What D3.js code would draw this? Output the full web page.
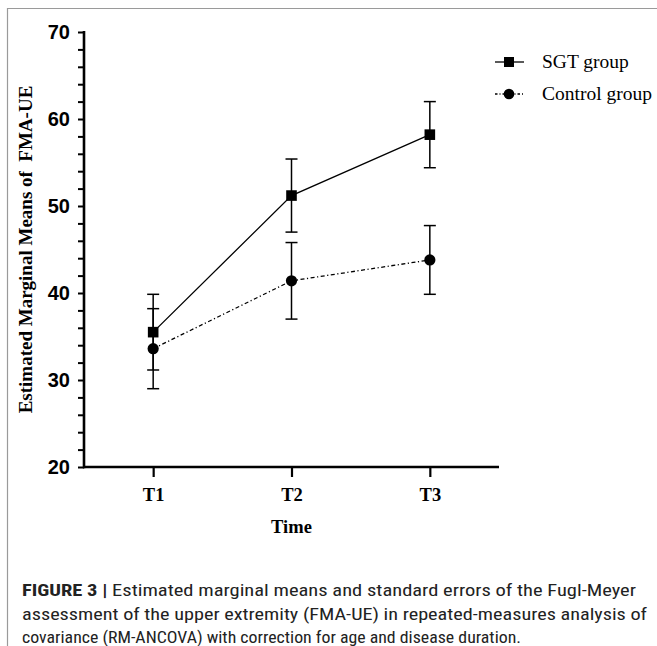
<!DOCTYPE html>
<html>
<head>
<meta charset="utf-8">
<script src="https://cdn.jsdelivr.net/npm/d3@7"></script>
<style>
  body { margin: 0; background: #fff; }
  svg { display: block; }
</style>
</head>
<body>
<div id="chart"></div>
<script>
// chart values
const timepoints = ["T1", "T2", "T3"];
const sgtMeans = [35.5, 51.2, 58.2];
const sgtErrors = [4.35, 4.2, 3.8];
const controlMeans = [33.6, 41.4, 43.8];
const controlErrors = [4.6, 4.4, 3.95];
const yTicks = [20, 30, 40, 50, 60, 70];
const seriesNames = ["SGT group", "Control group"];
const captionLines = [
    ["FIGURE 3 | ", "Estimated marginal means and standard errors of the Fugl-Meyer"],
    ["", "assessment of the upper extremity (FMA-UE) in repeated-measures analysis of"],
    ["", "covariance (RM-ANCOVA) with correction for age and disease duration."]
];

const width = 657, height = 646;
const svg = d3.select("#chart").append("svg")
    .attr("width", width)
    .attr("height", height);

// page frame (grey lines top and left)
svg.append("path")
    .attr("d", "M7.5," + height + "V8.5H" + width)
    .attr("fill", "none")
    .attr("stroke", "#9a9a9a")
    .attr("stroke-width", 1.2);

const xScale = d3.scalePoint().domain(timepoints).range([84, 499]).padding(0.5);
const yScale = d3.scaleLinear().domain([20, 70]).range([467, 32]);

const axisFont = "'Liberation Sans', Arial, sans-serif";
const serif = "'Liberation Serif', 'Times New Roman', serif";

// y axis
let yAxis = svg.append("g").attr("transform", "translate(84,0)")
    .call(d3.axisLeft(yScale).tickValues(d3.range(20, 71, 2)).tickSize(6).tickFormat(""));
yAxis.select(".domain").remove();
yAxis.selectAll("line").attr("stroke", "#000").attr("stroke-width", 2);
yAxis.append("line")
    .attr("x1", 0).attr("x2", 0)
    .attr("y1", yScale(70) - 1).attr("y2", yScale(20) + 1.2)
    .attr("stroke", "#000").attr("stroke-width", 2.6);
yAxis.selectAll(".major")
    .data(yTicks)
    .enter().append("text")
        .attr("x", -14)
        .attr("y", (d) => yScale(d))
        .attr("dy", "0.36em")
        .attr("text-anchor", "end")
        .attr("font-family", axisFont)
        .attr("font-weight", "bold")
        .attr("font-size", 20)
        .attr("fill", "#000")
        .text((d) => d);

// x axis
let xAxis = svg.append("g").attr("transform", "translate(0,467)")
    .call(d3.axisBottom(xScale).tickSize(10).tickSizeOuter(0));
xAxis.select(".domain").remove();
xAxis.append("line")
    .attr("x1", 83).attr("x2", 499)
    .attr("stroke", "#000").attr("stroke-width", 2.6);
xAxis.selectAll(".tick line").attr("stroke", "#000").attr("stroke-width", 2.2);
xAxis.selectAll(".tick text")
    .attr("y", 34)
    .attr("dy", 0)
    .attr("font-family", serif)
    .attr("font-weight", "bold")
    .attr("font-size", 18.5)
    .attr("fill", "#000");

// axis titles
svg.append("text")
    .attr("x", xScale("T2"))
    .attr("y", 533)
    .attr("text-anchor", "middle")
    .attr("font-family", serif)
    .attr("font-weight", "bold")
    .attr("font-size", 18.5)
    .text("Time");

svg.append("text")
    .attr("transform", "translate(32," + ((yScale(20) + yScale(70)) / 2) + ") rotate(-90)")
    .attr("text-anchor", "middle")
    .attr("font-family", serif)
    .attr("font-weight", "bold")
    .attr("font-size", 19)
    .attr("xml:space", "preserve")
    .text("Estimated Marginal Means of  FMA-UE");

// series
const series = [
    {name: seriesNames[0], means: sgtMeans, errors: sgtErrors, dash: null, marker: "square"},
    {name: seriesNames[1], means: controlMeans, errors: controlErrors, dash: "4,2.5,1.2,2.5", marker: "circle"}
];

const plotLine = d3.line()
    .x((d) => xScale(d.t))
    .y((d) => yScale(d.v));

series.forEach((s) => {
    const pts = timepoints.map((t, i) => ({t: t, v: s.means[i], e: s.errors[i]}));
    let g = svg.append("g");
    g.append("path")
        .attr("d", plotLine(pts))
        .attr("fill", "none")
        .attr("stroke", "#000")
        .attr("stroke-width", 1.3)
        .attr("stroke-dasharray", s.dash);

    // error bars
    let bars = g.selectAll(".err").data(pts).enter().append("g");
    bars.append("line")
        .attr("x1", (d) => xScale(d.t)).attr("x2", (d) => xScale(d.t))
        .attr("y1", (d) => yScale(d.v + d.e)).attr("y2", (d) => yScale(d.v - d.e))
        .attr("stroke", "#000").attr("stroke-width", 1.5);
    [1, -1].forEach((sign) => {
        bars.append("line")
            .attr("x1", (d) => xScale(d.t) - 6).attr("x2", (d) => xScale(d.t) + 6)
            .attr("y1", (d) => yScale(d.v + sign * d.e)).attr("y2", (d) => yScale(d.v + sign * d.e))
            .attr("stroke", "#000").attr("stroke-width", 1.5);
    });

    if (s.marker === "square") {
        g.selectAll(".mk").data(pts).enter().append("rect")
            .attr("x", (d) => xScale(d.t) - 5.3)
            .attr("y", (d) => yScale(d.v) - 5.3)
            .attr("width", 10.6).attr("height", 10.6)
            .attr("fill", "#000");
    } else {
        g.selectAll(".mk").data(pts).enter().append("circle")
            .attr("cx", (d) => xScale(d.t))
            .attr("cy", (d) => yScale(d.v))
            .attr("r", 5.6)
            .attr("fill", "#000");
    }
});

// legend
let legend = svg.append("g");
series.forEach((s, i) => {
    const ly = 62 + i * 32;
    legend.append("line")
        .attr("x1", 495).attr("x2", 524)
        .attr("y1", ly).attr("y2", ly)
        .attr("stroke", "#000").attr("stroke-width", 1.3)
        .attr("stroke-dasharray", s.dash ? "2.5,2,1,2" : null);
    if (s.marker === "square") {
        legend.append("rect").attr("x", 504).attr("y", ly - 5).attr("width", 10).attr("height", 10).attr("fill", "#000");
    } else {
        legend.append("circle").attr("cx", 509).attr("cy", ly).attr("r", 5.3).attr("fill", "#000");
    }
    legend.append("text")
        .attr("x", 542)
        .attr("y", ly + 6)
        .attr("font-family", serif)
        .attr("font-size", 19.5)
        .attr("fill", "#000")
        .text(s.name);
});

// caption
const captionWidths = [614, 625, 499];
captionLines.forEach((line, i) => {
    let t = svg.append("text")
        .attr("x", 22)
        .attr("y", 596 + i * 23.5)
        .attr("font-family", "'Liberation Sans Narrow', 'Roboto Condensed', 'Liberation Sans', Arial, sans-serif")
        .attr("font-size", 17)
        .attr("fill", "#222")
        .attr("textLength", captionWidths[i])
        .attr("lengthAdjust", "spacingAndGlyphs");
    if (line[0]) t.append("tspan").attr("font-weight", "bold").text(line[0]);
    t.append("tspan").text(line[1]);
});
</script>
</body>
</html>
